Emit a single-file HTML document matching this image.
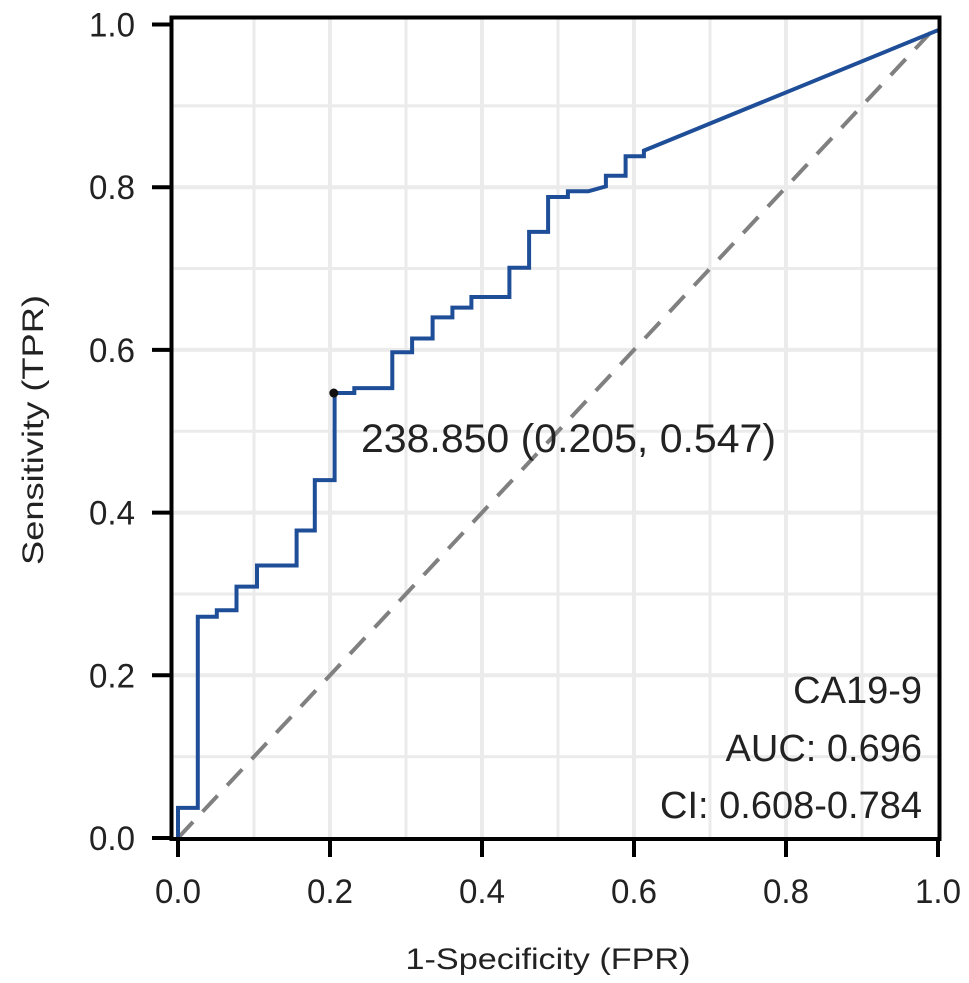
<!DOCTYPE html>
<html><head><meta charset="utf-8"><style>
html,body{margin:0;padding:0;background:#fff;}
svg{display:block;font-family:"Liberation Sans",Arial,sans-serif;}
</style></head><body>
<svg id="chart" width="969" height="983" viewBox="0 0 969 983" xmlns="http://www.w3.org/2000/svg">
<g id="grid"></g>
<line x1="178" y1="838" x2="938" y2="24.5" stroke="#808080" stroke-width="4" stroke-dasharray="22,14"/>
<path id="roc" fill="none" stroke="#1f4e98" stroke-width="4"/>
<circle id="cut" r="4.5" fill="#111"/>
<rect x="171.5" y="17.5" width="768" height="821.5" fill="none" stroke="#000" stroke-width="4"/>
<g id="axes"></g>
<text x="361" y="452" font-size="40" textLength="415" lengthAdjust="spacingAndGlyphs" fill="#222">238.850 (0.205, 0.547)</text>
<text x="922" y="703" font-size="38" text-anchor="end" fill="#222">CA19-9</text>
<text x="922" y="761" font-size="38" text-anchor="end" fill="#222">AUC: 0.696</text>
<text x="922" y="818" font-size="38" text-anchor="end" fill="#222">CI: 0.608-0.784</text>
<text x="548" y="969" font-size="30" text-anchor="middle" textLength="285" lengthAdjust="spacingAndGlyphs" fill="#222">1-Specificity (FPR)</text>
<text transform="translate(43,430) rotate(-90)" font-size="30" text-anchor="middle" textLength="270" lengthAdjust="spacingAndGlyphs" fill="#222">Sensitivity (TPR)</text>
</svg>
<script>
const fprValues=[0,0,0.026,0.026,0.051,0.051,0.077,0.077,0.104,0.104,0.156,0.156,0.18,0.18,0.206,0.206,0.232,0.232,0.282,0.282,0.308,0.308,0.335,0.335,0.361,0.361,0.386,0.386,0.436,0.436,0.462,0.462,0.487,0.487,0.513,0.513,0.54,0.563,0.563,0.589,0.589,0.613,0.613,1.0];
const tprValues=[0,0.037,0.037,0.272,0.272,0.28,0.28,0.309,0.309,0.335,0.335,0.378,0.378,0.44,0.44,0.547,0.547,0.553,0.553,0.597,0.597,0.614,0.614,0.64,0.64,0.652,0.652,0.665,0.665,0.701,0.701,0.745,0.745,0.788,0.788,0.795,0.795,0.801,0.814,0.814,0.838,0.838,0.845,0.993];
const cutoffPoint=[0.205,0.547];
const tickValues=[0,0.2,0.4,0.6,0.8,1.0];
const tickLabels=["0.0","0.2","0.4","0.6","0.8","1.0"];
const gridValues=[0.1,0.2,0.3,0.4,0.5,0.6,0.7,0.8,0.9];
const X0=178,X1=938,Y0=838,Y1=24.5;
const sx=v=>X0+(X1-X0)*v, sy=v=>Y0-(Y0-Y1)*v;
const NS="http://www.w3.org/2000/svg";
function mk(tag,attrs,parent){const e=document.createElementNS(NS,tag);for(const k in attrs)e.setAttribute(k,attrs[k]);parent.appendChild(e);return e;}
const grid=document.getElementById('grid');
gridValues.forEach(v=>{
  const major=Math.abs(v*5-Math.round(v*5))<1e-6;
  const w=major?4:3;
  const a=mk('line',{x1:sx(v),x2:sx(v),y1:17,y2:839,stroke:'#ebebeb','stroke-width':w},grid);
  
  
  const b=mk('line',{x1:171,x2:940,y1:sy(v),y2:sy(v),stroke:'#ebebeb','stroke-width':w},grid);
  
  
});
document.getElementById('roc').setAttribute('d',fprValues.map((f,i)=>(i?'L':'M')+sx(f).toFixed(1)+','+sy(tprValues[i]).toFixed(1)).join(''));
const c=document.getElementById('cut');c.setAttribute('cx',sx(cutoffPoint[0]));c.setAttribute('cy',sy(cutoffPoint[1]));
const axes=document.getElementById('axes');
tickValues.forEach((v,i)=>{
  const t1=mk('line',{x1:sx(v),x2:sx(v),y1:839,y2:857,stroke:'#000','stroke-width':4},axes);
  
  
  const l1=mk('text',{x:sx(v),y:903,'font-size':34,'text-anchor':'middle',fill:'#222',textLength:46,lengthAdjust:'spacingAndGlyphs'},axes);
  l1.textContent=tickLabels[i];
  
  
  const t2=mk('line',{x1:152,x2:171,y1:sy(v),y2:sy(v),stroke:'#000','stroke-width':4},axes);
  
  
  const l2=mk('text',{x:135,y:sy(v)+12,'font-size':34,'text-anchor':'end',fill:'#222',textLength:46,lengthAdjust:'spacingAndGlyphs'},axes);
  l2.textContent=tickLabels[i];
  
  
});
</script>
</body></html>
